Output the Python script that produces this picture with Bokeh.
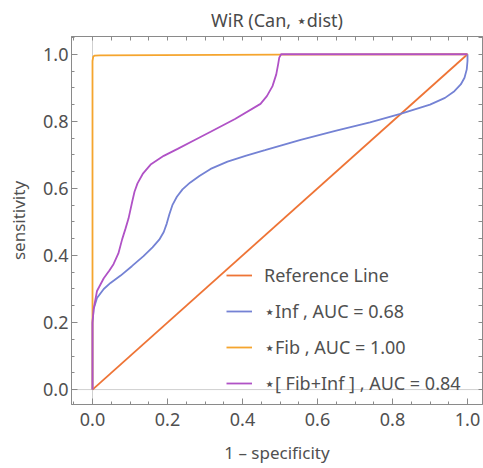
from bokeh.plotting import figure
from bokeh.models import Range1d, FixedTicker, LinearAxis, Span, Legend, LegendItem
from bokeh.embed import file_html
from bokeh.resources import INLINE

title_text = "WiR (Can, \u22c6dist)"
x_label = "1 \u2013 specificity"
y_label = "sensitivity"
tick_values = [0.0, 0.2, 0.4, 0.6, 0.8, 1.0]
tick_labels = ["0.0", "0.2", "0.4", "0.6", "0.8", "1.0"]
minor_values = [-0.05, 0.0, 0.05, 0.1, 0.15, 0.2, 0.25, 0.3, 0.35, 0.4, 0.45, 0.5,
                0.55, 0.6, 0.65, 0.7, 0.75, 0.8, 0.85, 0.9, 0.95, 1.0, 1.05]

ref_fpr = [0.0, 1.0]
ref_tpr = [0.0, 1.0]

inf_fpr = [0, 0, 0.003, 0.012, 0.03, 0.048, 0.075, 0.105, 0.136, 0.16, 0.178, 0.19,
           0.198, 0.205, 0.213, 0.225, 0.24, 0.26, 0.285, 0.315, 0.36, 0.41, 0.46,
           0.555, 0.65, 0.74, 0.821, 0.9, 0.94, 0.965, 0.982, 0.992, 0.998, 1.0, 1.0]
inf_tpr = [0, 0.2, 0.24, 0.273, 0.3, 0.318, 0.34, 0.368, 0.398, 0.424, 0.447, 0.47,
           0.495, 0.523, 0.55, 0.575, 0.597, 0.617, 0.637, 0.658, 0.68, 0.698, 0.714,
           0.745, 0.772, 0.797, 0.822, 0.85, 0.87, 0.89, 0.91, 0.93, 0.955, 0.98, 1.0]

fib_fpr = [0.0, 0.0, 0.002, 0.006, 0.02, 0.5, 1.0]
fib_tpr = [0.0, 0.98, 0.993, 0.996, 0.997, 0.999, 1.0]

comb_fpr = [0, 0, 0.003, 0.012, 0.03, 0.045, 0.056, 0.069, 0.079, 0.088, 0.096, 0.106,
            0.112, 0.12, 0.135, 0.155, 0.19, 0.227, 0.27, 0.315, 0.38, 0.448, 0.465,
            0.48, 0.49, 0.495, 0.498, 0.503, 1.0]
comb_tpr = [0, 0.2, 0.24, 0.294, 0.332, 0.355, 0.374, 0.406, 0.448, 0.48, 0.51, 0.561,
            0.59, 0.615, 0.645, 0.671, 0.697, 0.718, 0.743, 0.769, 0.807, 0.852, 0.875,
            0.905, 0.94, 0.97, 0.99, 1.0, 1.0]

legend_labels = ["Reference Line", "\u22c6Inf , AUC = 0.68", "\u22c6Fib , AUC = 1.00",
                 "\u22c6[ Fib+Inf ] , AUC = 0.84"]
colors = ["#EE7436", "#7482D4", "#F5A52E", "#B052C6"]

FONT = "Noto Sans"
TXT = "#505050"
FRAME = "#8a8a8a"

p = figure(width=483, height=468, output_backend="svg", toolbar_location=None,
           x_range=Range1d(-0.056, 1.04), y_range=Range1d(-0.0445, 1.053),
           min_border_left=71, min_border_right=1, min_border_top=34, min_border_bottom=64,
           x_axis_label=x_label, y_axis_label=y_label)
p.title.text = title_text
p.title.align = "center"
p.title.text_font = FONT
p.title.text_font_size = "18px"
p.title.text_font_style = "normal"
p.title.text_color = "#4a4a4a"
p.grid.visible = False
p.outline_line_color = FRAME
p.background_fill_color = "white"
p.border_fill_color = "white"

ticker = FixedTicker(ticks=tick_values, minor_ticks=minor_values)
plain_ticker = FixedTicker(ticks=[], minor_ticks=minor_values)
overrides = {v: s for v, s in zip(tick_values, tick_labels)}

def style_axis(ax, labels=True):
    ax.axis_line_color = FRAME
    ax.major_tick_line_color = FRAME
    ax.minor_tick_line_color = FRAME
    ax.major_tick_in = 6
    ax.major_tick_out = 0
    ax.minor_tick_out = 0
    if labels:
        ax.ticker = ticker
        ax.minor_tick_in = 3
        ax.major_label_overrides = overrides
        ax.major_label_text_font = FONT
        ax.major_label_text_font_size = "18px"
        ax.major_label_text_color = TXT
        ax.axis_label_text_font = FONT
        ax.axis_label_text_font_size = "17px"
        ax.axis_label_text_font_style = "normal"
        ax.axis_label_text_color = TXT
    else:
        ax.ticker = plain_ticker
        ax.minor_tick_in = 4
        ax.major_label_standoff = 0

style_axis(p.xaxis[0])
style_axis(p.yaxis[0])
p.xaxis[0].major_label_standoff = 8
p.xaxis[0].axis_label_standoff = 12
p.yaxis[0].major_label_standoff = 3
p.yaxis[0].axis_label_standoff = 10

top_ax = LinearAxis()
right_ax = LinearAxis()
style_axis(top_ax, labels=False)
style_axis(right_ax, labels=False)
p.add_layout(top_ax, "above")
p.add_layout(right_ax, "right")

p.add_layout(Span(location=0, dimension="height", line_color="#d0d0d0", line_width=1, level="underlay"))
p.add_layout(Span(location=0, dimension="width", line_color="#d0d0d0", line_width=1, level="underlay"))

r0 = p.line(ref_fpr, ref_tpr, line_color=colors[0], line_width=1.8)
r1 = p.line(inf_fpr, inf_tpr, line_color=colors[1], line_width=1.8)
r2 = p.line(fib_fpr, fib_tpr, line_color=colors[2], line_width=1.8)
r3 = p.line(comb_fpr, comb_tpr, line_color=colors[3], line_width=1.8)

legend = Legend(items=[LegendItem(label=l, renderers=[r]) for l, r in
                       zip(legend_labels, [r0, r1, r2, r3])],
                location=(155, 9), padding=0, margin=0, spacing=12,
                glyph_width=26, glyph_height=20, label_height=20, label_standoff=12,
                label_text_font=FONT, label_text_font_size="18px", label_text_color=TXT,
                border_line_alpha=0, background_fill_alpha=0)
p.add_layout(legend, "center")

open("out.html", "w").write(file_html(p, INLINE))
